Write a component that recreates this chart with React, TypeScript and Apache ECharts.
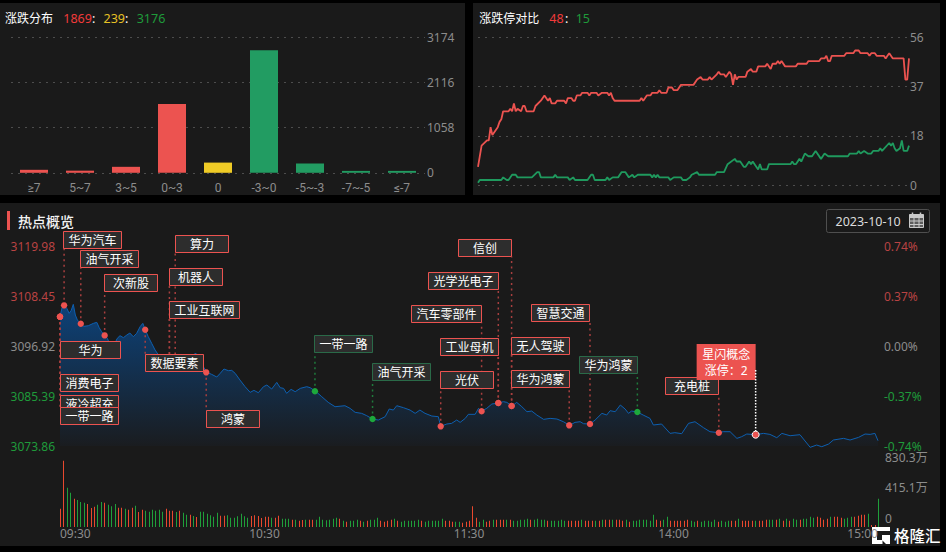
import React, { useEffect, useRef } from "react";
import * as echarts from "echarts";

const FONT = '"Noto Sans", "Noto Sans CJK SC", sans-serif';
const RED = "#ec5350";
const GREEN = "#229c62";
const YELLOW = "#efcb26";
const GREY = "#8c8c8c";

// ---------- 涨跌分布 ----------
const distCategories = ["≥7", "5~7", "3~5", "0~3", "0", "-3~0", "-5~-3", "-7~-5", "≤-7"];
const distValues = [70, 50, 140, 1609, 239, 2868, 218, 45, 45];
const distKinds = ["up", "up", "up", "up", "flat", "down", "down", "down", "down"];

// ---------- 涨跌停对比: [minute, count] ----------
const limitUp = [
  [0,7],[2,15],[5,17],[6,17],[7,22],[8,19],[11,22],[12,24],[13,25],[14,28],[17,28],[18,29],[19,28],[20,31],[21,28],[22,29],[24,28],[25,30],[26,30],[27,28],[31,28],[32,30],[35,32],[37,34],[39,32],[40,33],[41,31],[43,31],[44,32],[48,32],[49,31],[50,33],[52,33],[53,32],[54,32],[55,34],[57,34],[58,35],[61,35],[62,34],[63,35],[66,35],[67,34],[69,35],[72,35],[73,34],[74,35],[75,33],[76,32],[90,32],[91,33],[92,32],[94,34],[96,34],[97,35],[100,35],[101,36],[102,35],[105,35],[106,37],[108,37],[109,36],[111,36],[113,38],[120,38],[122,40],[124,41],[125,40],[128,40],[129,41],[130,40],[133,42],[134,43],[135,42],[137,42],[138,41],[140,43],[141,42],[142,38],[143,42],[144,40],[145,41],[149,41],[150,43],[152,44],[153,43],[155,43],[156,45],[160,45],[161,46],[163,44],[164,46],[166,46],[167,47],[168,46],[169,47],[171,45],[177,45],[178,46],[183,46],[184,47],[190,47],[191,48],[193,48],[194,49],[195,47],[196,47],[197,49],[204,49],[205,50],[209,50],[210,51],[212,51],[213,50],[217,50],[218,49],[219,50],[221,50],[222,49],[226,49],[227,48],[228,49],[229,50],[231,48],[237,48],[238,40],[239,40],[240,48],
];
const limitDown = [
  [0,1],[1,2],[13,2],[14,3],[16,2],[17,2],[19,4],[21,4],[22,3],[30,3],[33,5],[34,5],[35,3],[42,3],[43,4],[44,3],[50,3],[51,2],[53,3],[54,2],[61,2],[63,4],[64,4],[65,2],[71,2],[72,3],[73,2],[75,3],[78,3],[80,5],[82,5],[84,3],[86,4],[87,3],[89,4],[96,4],[97,3],[98,4],[99,3],[100,4],[101,3],[106,3],[107,2],[109,3],[113,3],[114,2],[116,2],[118,3],[119,4],[122,5],[123,4],[132,4],[133,5],[137,5],[139,8],[143,10],[144,9],[146,9],[148,7],[149,7],[151,9],[152,8],[153,9],[154,8],[156,6],[157,8],[158,6],[161,6],[162,8],[174,8],[175,9],[176,8],[177,8],[179,10],[180,9],[182,12],[184,11],[186,11],[188,13],[191,10],[193,12],[195,11],[206,11],[207,12],[211,12],[212,13],[213,12],[215,13],[217,12],[219,12],[220,13],[223,13],[224,14],[225,13],[229,16],[230,15],[231,16],[232,14],[233,13],[235,14],[236,17],[237,13],[239,13],[240,15],
];

// ---------- 热点概览: index line [minute, price] ----------
const indexLine = [
  [0,3103.68],[0.6,3105.75],[1.2,3106.29],[2,3105.6],[2.7,3104.45],[3.3,3105.14],[3.9,3106.52],[4.5,3104.06],[5.1,3102.91],[6.1,3102.06],[7,3101.45],[8.3,3101.6],[9.8,3102.14],[10.8,3102.37],[11.5,3101.14],[12.2,3100.22],[13.1,3099.37],[13.9,3098.68],[14.7,3097.14],[16.1,3097.53],[16.8,3098.68],[17.6,3099.3],[18.6,3098.84],[19.6,3099.45],[20.5,3099.91],[21.5,3099.07],[22.5,3099.84],[23.5,3101.37],[24.3,3102.14],[25,3100.68],[25.9,3099.07],[26.9,3097.53],[27.9,3095.99],[28.9,3094.84],[30.8,3093.92],[33.3,3093.68],[37.2,3094.22],[39.9,3095.22],[41.1,3093.3],[43.1,3090.84],[44.5,3090.38],[46,3089.77],[47,3090.61],[48.1,3091.61],[49.4,3091.23],[50.4,3091.3],[51.4,3090.61],[52.8,3089.07],[54.3,3087.54],[55.8,3086.23],[56.9,3086.69],[58.2,3086.15],[59.7,3087.54],[60.7,3087.92],[62.1,3087],[63.6,3088.53],[64.6,3087.3],[65.6,3087.15],[66.5,3086],[67.8,3086.92],[69,3086.38],[70.5,3087.15],[72.4,3087.54],[73.4,3087.3],[74.9,3086.54],
  [76.8,3085.23],[78.7,3083.92],[80.7,3082.92],[83.6,3083.15],[85.1,3082.54],[86.6,3081.62],[88.5,3081.39],[90,3080.85],[91.7,3080.08],[93.4,3079.85],[95.4,3080.62],[96.6,3082.39],[97.8,3082.15],[98.8,3083.15],[100.8,3082.69],[102.7,3082.15],[104.2,3081.39],[105.6,3082.15],[107.1,3081.39],[109.1,3080.77],[111,3080.62],[111.7,3078.39],[113.5,3078.93],[114.9,3079.08],[116.4,3079.85],[117.4,3079.31],[118.9,3080.23],[119.8,3081.16],[121.8,3081.16],[122.8,3082.54],[123.6,3081.85],[125.2,3082.54],[126.7,3083.54],[128.6,3083.77],[130.1,3084.08],[131.1,3083.92],[132.6,3083.08],[134,3083.92],[135.5,3082.92],[137,3081.77],[138.4,3081.92],[139.9,3081],[141.9,3080],[143.8,3080.23],[145.8,3080.08],[147.7,3079.46],[149.5,3078.62],[151.1,3079.31],[152.6,3079.46],[153.6,3079],[155.5,3078.93],[157,3079.85],[159,3081.39],[160.4,3081],[161.4,3082],[162.9,3081.77],[164.4,3083.31],
  [165.8,3082.39],[166.8,3081.39],[167.7,3081.92],[169.4,3081.69],[171.1,3081],[173.1,3080.23],[174.1,3078.7],[176.5,3078.93],[179,3076.77],[180.4,3076.93],[182.4,3076.7],[184.4,3079.08],[186.3,3079.46],[188.8,3078.08],[190.7,3077.16],[193.3,3076.93],[194.6,3077.16],[196.6,3077.16],[198.6,3075.62],[200,3076.01],[201.5,3076.62],[204.1,3076.47],[206.4,3076.77],[208.3,3076.54],[210.3,3075.77],[211.8,3076.77],[214.2,3076.23],[217.1,3076.47],[220.1,3073.55],[222,3074.08],[223.5,3073.7],[225.5,3074.31],[226.9,3075.24],[229.9,3075.62],[231.8,3075.24],[234.3,3075.85],[236.2,3076.62],[237.7,3076.54],[239.1,3076.77],[240,3075.08],
];
const priceTicks = [3073.86, 3085.39, 3096.92, 3108.45, 3119.98];
const pctTicks = [-0.74, -0.37, 0, 0.37, 0.74];
const timeLabels = ["09:30", "10:30", "11:30", "14:00", "15:00"];
const volumeTicks = [0, 415.1, 830.3];

// per-minute volume (万); positive = red bar, negative = green bar
const volumeMorning = [
  254,917,-544,-475,392,-373,-346,-337,318,263,
  281,-309,-346,337,-309,-286,-318,267,267,-254,
  240,267,-295,207,240,-226,-212,-240,-226,-240,
  -212,254,226,226,-207,226,-198,-171,171,-152,
  138,-212,-212,-184,-161,-143,-198,157,157,-161,
  -129,-129,-148,-184,-148,-129,152,161,152,124,
  143,143,-129,129,157,-115,-115,-115,101,-101,
  88,97,-101,101,101,-101,-143,-101,-92,-101,
  -115,-129,115,-88,74,-88,-88,-101,88,-74,
  88,-101,-101,-129,88,74,88,101,-115,88,
  -74,-88,-88,-88,-88,-101,88,-74,-88,-88,
  -88,-88,-115,88,88,74,-74,-74,60,74,
  88,
];
const volumeAfternoon = [
  286,129,-74,-101,74,88,-101,101,101,
  101,-101,101,-88,-88,-101,-101,-115,101,-101,
  -115,-101,-101,88,-88,-88,-88,-101,-88,88,
  88,88,88,-101,88,88,88,-88,88,-101,
  101,101,-101,101,101,88,-101,74,-88,-88,
  -101,-101,-101,-88,-171,101,88,-101,-143,88,
  88,88,88,88,101,-88,-74,88,-74,-88,
  -88,-74,-101,74,-88,-74,-88,88,88,-115,
  88,88,88,88,-88,88,88,101,-101,-101,
  101,-115,88,-115,88,-115,-101,101,-115,-115,
  -143,-129,143,129,101,115,-143,143,143,129,
  -115,-129,-143,143,157,171,171,-184,28,28,
  -392,
];
const volumes = [...volumeMorning, ...volumeAfternoon];

// ---------- 题材标注 ----------
const eventNames = ["华为汽车","油气开采","次新股","算力","机器人","工业互联网","华为","数据要素","消费电子","液冷超充","一带一路","鸿蒙","一带一路","油气开采","光伏","工业母机","汽车零部件","光学光电子","信创","无人驾驶","华为鸿蒙","智慧交通","华为鸿蒙","充电桩"];
const eventMinutes = [1.2,6.1,13.1,33.8,32.1,32.1,0,25,0,0,0,42.9,74.8,91.7,111.7,128.6,123.7,128.6,132.5,132.5,149.4,155.5,169.4,193.3];
const eventPrices = [3106.29,3102.06,3099.37,3093.7,3093.8,3093.8,3103.68,3100.68,3103.68,3103.68,3103.68,3090.84,3086.5,3080.08,3078.39,3083.77,3081.85,3083.77,3083.08,3083.08,3078.62,3078.93,3081.69,3076.93];
const eventRise = [1,1,1,1,1,1,1,1,1,1,1,1,0,0,1,1,1,1,1,1,1,1,0,1];
const activeEvent = { lines: ["星闪概念", "涨停：2"], minute: 204.1, price: 3076.47 };

// label-box layout on the page (left, top, width)
const BOX_H = 17;
const eventBoxes = [
  [63.5,231.5,58],[80.5,250.5,58],[104.5,274.5,53],[175.5,235.5,53],[169.5,268.5,53],[169.5,301.5,70],
  [60.5,341.5,60],[145.5,354.5,58],[60.5,374.5,58],[60.5,395.5,58],[60.5,407.5,58],[206.5,410.5,53],
  [314.5,335.5,58],[372.5,363.5,58],[440.5,371.5,53],[440.5,338.5,58],[411.5,305.5,70],[428.5,272.5,70],
  [458.5,239.5,53],[511.5,337.5,58],[511.5,370.5,58],[531.5,304.5,58],[579.5,356.5,58],[665.5,377.5,53],
];

const panelRects = [
  [0, 3, 465, 192],
  [473, 3, 467, 192],
  [0, 203, 940, 343],
];

const LOGO = "M0 0H18V4H5V13H10V8H18V17H14L10.5 13.5V17H0Z";

function headerText(text: string, x: number, y: number, fill: string, fontSize = 12, fontWeight: any = "normal") {
  return {
    type: "text",
    x,
    y,
    style: { text, fill, fontSize, fontWeight, fontFamily: FONT, align: "left", verticalAlign: "middle" },
  };
}

function dashedSplit() {
  return { show: true, lineStyle: { color: "#4d4d4d", type: [2, 5] as any, width: 1 } };
}

export default function App() {
  const ref = useRef<HTMLDivElement>(null);

  useEffect(() => {
    if (!ref.current) return;
    const logoShape = echarts.graphic.extendPath(LOGO, {});
    echarts.graphic.registerShape("gelonghuiLogo", logoShape as any);

    const chart = echarts.init(ref.current, undefined, { renderer: "svg" });

    const calendar: any[] = [
      { type: "rect", shape: { x: 909.5, y: 214.5, width: 14, height: 13 }, style: { fill: "#5c5c5c", stroke: "#c9c9c9", lineWidth: 1 } },
      { type: "rect", shape: { x: 909.5, y: 214.5, width: 14, height: 3.5 }, style: { fill: "#c9c9c9" } },
      { type: "line", shape: { x1: 912.5, y1: 212.5, x2: 912.5, y2: 216 }, style: { stroke: "#c9c9c9", lineWidth: 1.5 } },
      { type: "line", shape: { x1: 920.5, y1: 212.5, x2: 920.5, y2: 216 }, style: { stroke: "#c9c9c9", lineWidth: 1.5 } },
      { type: "line", shape: { x1: 914, y1: 218, x2: 914, y2: 227 }, style: { stroke: "#c9c9c9", lineWidth: 1 } },
      { type: "line", shape: { x1: 919, y1: 218, x2: 919, y2: 227 }, style: { stroke: "#c9c9c9", lineWidth: 1 } },
      { type: "line", shape: { x1: 910, y1: 221, x2: 923, y2: 221 }, style: { stroke: "#c9c9c9", lineWidth: 1 } },
      { type: "line", shape: { x1: 910, y1: 224.5, x2: 923, y2: 224.5 }, style: { stroke: "#c9c9c9", lineWidth: 1 } },
    ];

    const overlay: any[] = [
      headerText("涨跌分布", 5, 18, "#fff"),
      headerText("1869", 63.3, 18, "#f23a3a", 12.5),
      headerText(":", 92, 18, "#fff", 12.5),
      headerText("239", 103.5, 18, "#e6c125", 12.5),
      headerText(":", 125, 18, "#fff", 12.5),
      headerText("3176", 136.7, 18, "#1f9a3a", 12.5),
      headerText("涨跌停对比", 479.3, 18, "#fff"),
      headerText("48", 549.3, 18, "#f23a3a", 12.5),
      headerText(":", 565, 18, "#fff", 12.5),
      headerText("15", 575.7, 18, "#1f9a3a", 12.5),
      { type: "rect", shape: { x: 7, y: 211, width: 3, height: 19 }, style: { fill: RED } },
      headerText("热点概览", 18, 221, "#f2f2f2", 14, 500),
      { type: "rect", shape: { x: 826.5, y: 209.5, width: 103, height: 23, r: 2 }, style: { fill: "transparent", stroke: "#4f4f4f", lineWidth: 1 } },
      headerText("2023-10-10", 835.5, 221, "#dcdcdc", 12.5),
      ...calendar,
      { type: "gelonghuiLogo", x: 872, y: 527, style: { fill: "#fff" } },
      { type: "text", x: 894, y: 535.5, style: { text: "格隆汇", fill: "#fff", fontSize: 15.5, fontWeight: 500, fontFamily: FONT, align: "left", verticalAlign: "middle" } },
    ];

    const eventData = eventNames.map((_, i) => [eventMinutes[i], eventPrices[i], i]);

    const option: any = {
      animation: false,
      backgroundColor: "transparent",
      textStyle: { fontFamily: FONT },
      graphic: { z: 50, elements: overlay },
      grid: [
        { left: 11, top: 37.3, width: 414, height: 135.5 },
        { left: 478, top: 37.3, width: 431, height: 148 },
        { left: 60, top: 246, width: 818, height: 200 },
        { left: 60, top: 460, width: 818, height: 67 },
      ],
      xAxis: [
        {
          gridIndex: 0,
          type: "category",
          data: distCategories,
          axisLine: { show: false },
          axisTick: { show: false },
          axisLabel: { color: GREY, fontSize: 12, margin: 9, interval: 0, fontFamily: '"Roboto", "Noto Sans", sans-serif' },
        },
        { gridIndex: 1, type: "value", min: 0, max: 240, show: false },
        { gridIndex: 2, type: "value", min: 0, max: 240, show: false },
        {
          gridIndex: 3,
          type: "value",
          min: 0,
          max: 240,
          interval: 60,
          splitLine: { show: false },
          axisLine: { show: false },
          axisTick: { show: false },
          axisLabel: {
            color: GREY,
            fontSize: 12,
            margin: 0,
            lineHeight: 12,
            alignMinLabel: "left",
            alignMaxLabel: "right",
            fontFamily: FONT,
            formatter: (v: number) => timeLabels[Math.round(v / 60)],
          },
        },
      ],
      yAxis: [
        {
          gridIndex: 0,
          type: "value",
          min: 0,
          max: 3174,
          interval: 1058,
          position: "right",
          axisLine: { show: false },
          axisTick: { show: false },
          splitLine: dashedSplit(),
          axisLabel: { color: GREY, fontSize: 12, margin: 2, padding: [0, 0, 7, 0], fontFamily: FONT, formatter: (v: number) => String(v) },
        },
        {
          gridIndex: 1,
          type: "value",
          min: 0,
          max: 56,
          interval: 56 / 3,
          position: "right",
          axisLine: { show: false },
          axisTick: { show: false },
          splitLine: dashedSplit(),
          axisLabel: {
            color: GREY,
            fontSize: 12,
            margin: 1,
            padding: [0, 0, 7, 0],
            fontFamily: FONT,
            formatter: (v: number) => String(Math.floor(v + 1e-6)),
          },
        },
        {
          gridIndex: 2,
          type: "value",
          min: priceTicks[0],
          max: priceTicks[priceTicks.length - 1],
          position: "left",
          axisLine: { show: false },
          axisTick: { show: false, customValues: priceTicks },
          splitLine: { show: false },
          axisLabel: {
            customValues: priceTicks,
            fontSize: 12,
            lineHeight: 12,
            margin: 5,
            fontFamily: FONT,
            formatter: (v: number) => v.toFixed(2),
            color: (v: any) => {
              const n = Number(v);
              return n > 3097 ? "#b94343" : n < 3096 ? "#1f9a3a" : GREY;
            },
          },
        },
        {
          gridIndex: 2,
          type: "value",
          min: pctTicks[0],
          max: pctTicks[pctTicks.length - 1],
          position: "right",
          axisLine: { show: false },
          axisTick: { show: false, customValues: pctTicks },
          splitLine: { show: false },
          axisLabel: {
            customValues: pctTicks,
            fontSize: 12,
            lineHeight: 12,
            margin: 6,
            fontFamily: FONT,
            formatter: (v: number) => `${v.toFixed(2)}%`,
            color: (v: any) => {
              const n = Number(v);
              return n > 0 ? "#b94343" : n < 0 ? "#1f9a3a" : GREY;
            },
          },
        },
        {
          gridIndex: 3,
          type: "value",
          min: 0,
          max: 927,
          position: "right",
          axisLine: { show: false },
          axisTick: { show: false, customValues: volumeTicks },
          splitLine: { show: false },
          axisLabel: {
            customValues: volumeTicks,
            fontSize: 12,
            lineHeight: 12,
            margin: 7,
            color: GREY,
            fontFamily: FONT,
            verticalAlign: "bottom",
            padding: [0, 0, 3, 0],
            formatter: (v: number) => (v === 0 ? "0" : `${v}万`),
          },
        },
      ],
      series: [
        {
          type: "bar",
          xAxisIndex: 0,
          yAxisIndex: 0,
          barWidth: 28,
          data: distValues.map((value, i) => ({
            value,
            itemStyle: { color: distKinds[i] === "up" ? RED : distKinds[i] === "flat" ? YELLOW : GREEN },
          })),
        },
        {
          type: "line",
          xAxisIndex: 1,
          yAxisIndex: 1,
          showSymbol: false,
          symbol: "none",
          data: limitUp,
          lineStyle: { color: RED, width: 1.8 },
        },
        {
          type: "line",
          xAxisIndex: 1,
          yAxisIndex: 1,
          showSymbol: false,
          symbol: "none",
          data: limitDown,
          lineStyle: { color: "#1f9a5e", width: 1.8 },
        },
        {
          type: "line",
          xAxisIndex: 2,
          yAxisIndex: 2,
          showSymbol: false,
          symbol: "none",
          clip: false,
          data: indexLine,
          lineStyle: { color: "#0d5fb0", width: 1 },
          areaStyle: {
            color: new echarts.graphic.LinearGradient(0, 0, 0, 1, [
              { offset: 0, color: "#0d4279" },
              { offset: 1, color: "#1a1c1f" },
            ]),
            opacity: 1,
          },
        },
        {
          type: "custom",
          xAxisIndex: 2,
          yAxisIndex: 2,
          z: 5,
          clip: false,
          silent: true,
          encode: { x: 0, y: 1 },
          data: eventData,
          renderItem: (_p: any, api: any) => {
            const idx = api.value(2);
            const [cx, cy] = api.coord([api.value(0), api.value(1)]);
            const box = eventBoxes[idx];
            const up = eventRise[idx] === 1;
            const edge = box[1] + BOX_H < cy ? box[1] + BOX_H : box[1];
            return {
              type: "group",
              children: [
                {
                  type: "line",
                  shape: { x1: cx, y1: cy, x2: cx, y2: edge },
                  style: { stroke: up ? "#a83f3f" : "#1f7a3c", lineWidth: 1.5, lineDash: [2, 3.5] },
                },
                { type: "circle", shape: { cx, cy, r: 3.2 }, style: { fill: up ? RED : "#1da83c" } },
              ],
            };
          },
        },
        {
          type: "custom",
          xAxisIndex: 2,
          yAxisIndex: 2,
          z: 6,
          clip: false,
          silent: true,
          encode: { x: 0, y: 1 },
          data: eventData,
          renderItem: (_p: any, api: any) => {
            const idx = api.value(2);
            const box = eventBoxes[idx];
            const up = eventRise[idx] === 1;
            return {
              type: "group",
              children: [
                {
                  type: "rect",
                  shape: { x: box[0], y: box[1], width: box[2], height: BOX_H },
                  style: { fill: "#2d2d2d", stroke: up ? RED : "#2a6a48", lineWidth: 1 },
                },
                {
                  type: "text",
                  x: box[0] + box[2] / 2,
                  y: box[1] + BOX_H / 2,
                  style: { text: eventNames[idx], fill: "#fff", fontSize: 12, fontFamily: FONT, align: "center", verticalAlign: "middle" },
                },
              ],
            };
          },
        },
        {
          type: "custom",
          xAxisIndex: 2,
          yAxisIndex: 2,
          z: 7,
          clip: false,
          silent: true,
          encode: { x: 0, y: 1 },
          data: [[activeEvent.minute, activeEvent.price]],
          renderItem: (_p: any, api: any) => {
            const [cx, cy] = api.coord([api.value(0), api.value(1)]);
            return {
              type: "group",
              children: [
                { type: "rect", shape: { x: cx - 59, y: 344, width: 59, height: 36 }, style: { fill: RED } },
                {
                  type: "text",
                  x: cx - 29.5,
                  y: 354,
                  style: { text: activeEvent.lines[0], fill: "#fff", fontSize: 12, fontFamily: FONT, align: "center", verticalAlign: "middle" },
                },
                {
                  type: "text",
                  x: cx - 29.5,
                  y: 370,
                  style: { text: activeEvent.lines[1], fill: "#fff", fontSize: 12, fontFamily: FONT, align: "center", verticalAlign: "middle" },
                },
                { type: "line", shape: { x1: cx, y1: 370, x2: cx, y2: cy }, style: { stroke: "#fff", lineWidth: 1.5, lineDash: [1.5, 1.5] } },
                { type: "circle", shape: { cx, cy, r: 3.5 }, style: { fill: RED, stroke: "#fff", lineWidth: 1 } },
              ],
            };
          },
        },
        {
          type: "custom",
          xAxisIndex: 3,
          yAxisIndex: 4,
          clip: false,
          silent: true,
          encode: { x: 0, y: 1 },
          data: volumes.map((v, i) => [i, Math.abs(v), v > 0 ? 1 : 0]),
          renderItem: (_p: any, api: any) => {
            const [x, y] = api.coord([api.value(0), api.value(1)]);
            const base = api.coord([api.value(0), 0])[1];
            return {
              type: "rect",
              shape: { x: Math.round(x), y, width: 1, height: base - y },
              style: { fill: api.value(2) === 1 ? "#e8482e" : "#1f9f3a" },
            };
          },
        },
      ],
    };

    chart.setOption(option);
    return () => chart.dispose();
  }, []);

  return (
    <div style={{ position: "fixed", left: 0, top: 0, width: 946, height: 552, background: "#000" }}>
      {panelRects.map(([left, top, width, height], i) => (
        <div key={i} style={{ position: "absolute", left, top, width, height, background: "#1a1a1a" }} />
      ))}
      <div ref={ref} style={{ position: "absolute", left: 0, top: 0, width: 946, height: 552 }} />
    </div>
  );
}
